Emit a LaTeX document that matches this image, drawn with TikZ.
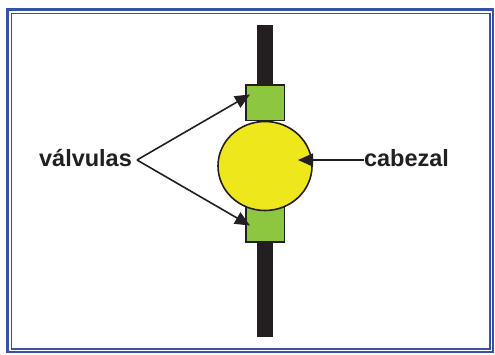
\documentclass[tikz,border=0pt]{standalone}
\usepackage{fontspec}
\setmainfont{Liberation Sans}
\usetikzlibrary{arrows.meta,shapes.geometric}
\definecolor{frameblue}{HTML}{3553A5}
\definecolor{ink}{HTML}{231F20}
\definecolor{valvegreen}{HTML}{8DC63F}
\definecolor{headyellow}{HTML}{EEE71B}
\tikzset{
  x=1pt, y=-1pt,
  valve/.style={draw=ink, line width=1.6pt, fill=valvegreen, minimum width=38.6pt, minimum height=35.6pt, inner sep=0pt},
  label/.style={font=\bfseries\fontsize{23.5}{26}\selectfont, text=ink, inner sep=0pt, anchor=base},
  pointer/.style={draw=ink, line width=1.6pt, -{Triangle[length=15pt,width=13pt]}}
}
\begin{document}
\begin{tikzpicture}
\useasboundingbox (0,0) rectangle (495,355);
\fill[white] (0,0) rectangle (495,355);
% frame
\draw[frameblue, line width=2.6pt] (7.5,9.5) rectangle (493,352);
\draw[frameblue, line width=1.9pt] (11.5,13.5) rectangle (490,348.7);
% pipe
\node[fill=ink, minimum width=16pt, minimum height=312pt, inner sep=0pt] (pipe) at (265,181) {};
% valves
\node[valve] (vtop) at (265,102.85) {};
\node[valve] (vbot) at (265,224.5) {};
% head
\node[ellipse, draw=ink, line width=1.6pt, fill=headyellow, minimum width=94pt, minimum height=89pt, inner sep=0pt] (head) at (265,166) {};
% labels
\node[label] (valv) at (85.5,167) {válvulas};
\node[label] (cab) at (406.5,167) {cabezal};
% connectors
\coordinate (vs) at (137,160);
\coordinate (vtoptip) at (250,94.5);
\coordinate (vbottip) at (250,225.5);
\coordinate (cs) at (364,160);
\coordinate (ctip) at (298,160);
\draw[pointer] (vs) -- (vtoptip);
\draw[pointer] (vs) -- (vbottip);
\draw[pointer] (cs) -- (ctip);
\end{tikzpicture}
\end{document}
